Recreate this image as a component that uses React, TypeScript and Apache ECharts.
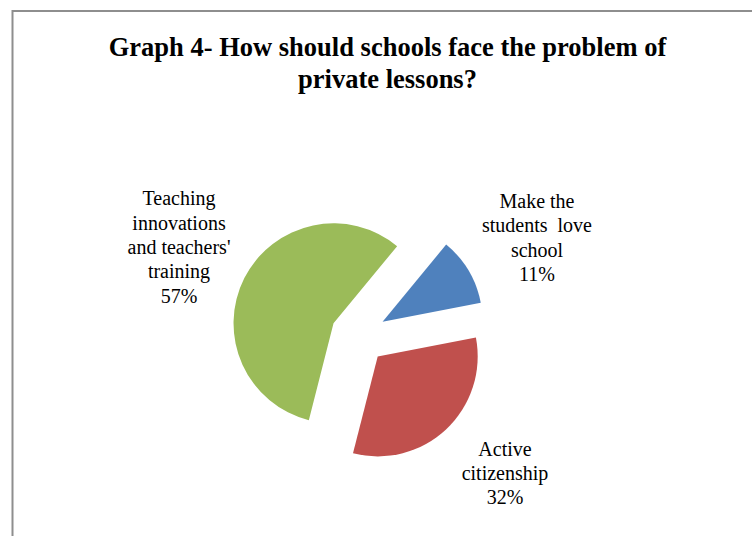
import React, { useEffect, useRef } from "react";
import * as echarts from "echarts";

const titleLines = ["Graph 4- How should schools face the problem of", "private lessons?"];
const categories = ["Make the\nstudents  love\nschool", "Active\ncitizenship", "Teaching\ninnovations\nand teachers'\ntraining"];
const values = [11, 32, 57];
const colors = ["#4F81BD", "#C0504D", "#9BBB59"];

// label anchor (centre of the text block) for each slice, in pixels
const labelAnchors = [
  [537, 237.5],
  [505, 473],
  [179, 247],
];

const FONT = "'Liberation Serif', 'Times New Roman', serif";

export default function App() {
  const ref = useRef<HTMLDivElement>(null);
  useEffect(() => {
    if (!ref.current) return;
    const chart = echarts.init(ref.current, null, { renderer: "svg" });
    const cx = 358.5;
    const cy = 336;
    const r = 100;
    const startDeg = 39.5; // clockwise from 12 o'clock

    const titleEls = titleLines.map((t, i) => ({
      type: "text",
      x: 387.5,
      y: i === 0 ? 47 : 79,
      silent: true,
      style: {
        text: t,
        fontFamily: FONT,
        fontWeight: "bold",
        fontSize: 26.5,
        fill: "#000",
        textAlign: "center",
        textVerticalAlign: "middle",
        align: "center",
        verticalAlign: "middle",
      },
    }));

    const labelEls = categories.map((name, i) => ({
      type: "text",
      x: labelAnchors[i][0],
      y: labelAnchors[i][1],
      silent: true,
      style: {
        text: `${name}\n${values[i]}%`,
        fontFamily: FONT,
        fontSize: 20,
        lineHeight: 24.3,
        fill: "#000",
        textAlign: "center",
        textVerticalAlign: "middle",
        align: "center",
        verticalAlign: "middle",
      },
    }));

    chart.setOption({
      animation: false,
      backgroundColor: "#ffffff",
      graphic: [
        {
          type: "rect",
          shape: { x: 12.5, y: 11, width: 800, height: 600 },
          style: { fill: "none", stroke: "#8e8e8e", lineWidth: 2 },
          silent: true,
        },
        ...titleEls,
        ...labelEls,
      ],
      series: [
        {
          type: "pie",
          center: [cx, cy],
          radius: [0, r],
          startAngle: 90 - startDeg,
          clockwise: true,
          selectedMode: "multiple",
          selectedOffset: 28,
          emphasis: { disabled: true },
          itemStyle: { borderWidth: 0 },
          label: { show: false },
          labelLine: { show: false },
          data: categories.map((name, i) => ({
            name,
            value: values[i],
            selected: true,
            itemStyle: { color: colors[i] },
          })),
        },
      ],
    });
    return () => chart.dispose();
  }, []);
  return (
    <div
      ref={ref}
      style={{ position: "fixed", left: 0, top: 0, width: 752, height: 536 }}
    />
  );
}
